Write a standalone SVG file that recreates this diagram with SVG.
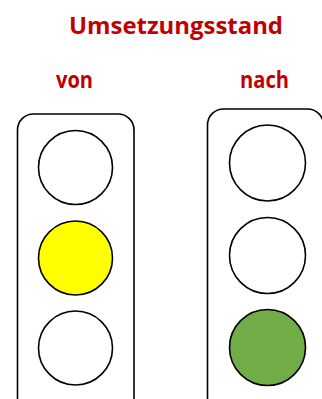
<svg xmlns="http://www.w3.org/2000/svg" width="322" height="399" viewBox="0 0 322 399">
<style>
.t{font-family:"Open Sans","Liberation Sans",sans-serif;font-weight:bold;fill:#C00000}
.box{fill:#fff;stroke:#000;stroke-width:1.6}
.lamp{stroke:#000;stroke-width:1.6}
</style>
<rect width="322" height="399" fill="#fff"/>
<text class="t" x="69" y="33.5" font-size="22.5" textLength="214" lengthAdjust="spacingAndGlyphs">Umsetzungsstand</text>
<text class="t" x="56" y="88.3" font-size="22.5" textLength="37" lengthAdjust="spacingAndGlyphs">von</text>
<text class="t" x="240" y="88.3" font-size="22.5" textLength="49" lengthAdjust="spacingAndGlyphs">nach</text>
<g id="ampel-von">
<rect class="box" x="17.5" y="114" width="116.5" height="300" rx="16"/>
<circle class="lamp" cx="75.5" cy="167.5" r="37" fill="#fff"/>
<circle class="lamp" cx="75.5" cy="258" r="37" fill="#FFFF00"/>
<circle class="lamp" cx="75.5" cy="348" r="37" fill="#fff"/>
</g>
<g id="ampel-nach">
<rect class="box" x="207.5" y="109" width="116" height="305" rx="16"/>
<circle class="lamp" cx="267.5" cy="163" r="38" fill="#fff"/>
<circle class="lamp" cx="267.5" cy="255.5" r="38" fill="#fff"/>
<circle class="lamp" cx="267.5" cy="347.5" r="38" fill="#70AD47"/>
</g>
<g id="connectors"/>
</svg>
